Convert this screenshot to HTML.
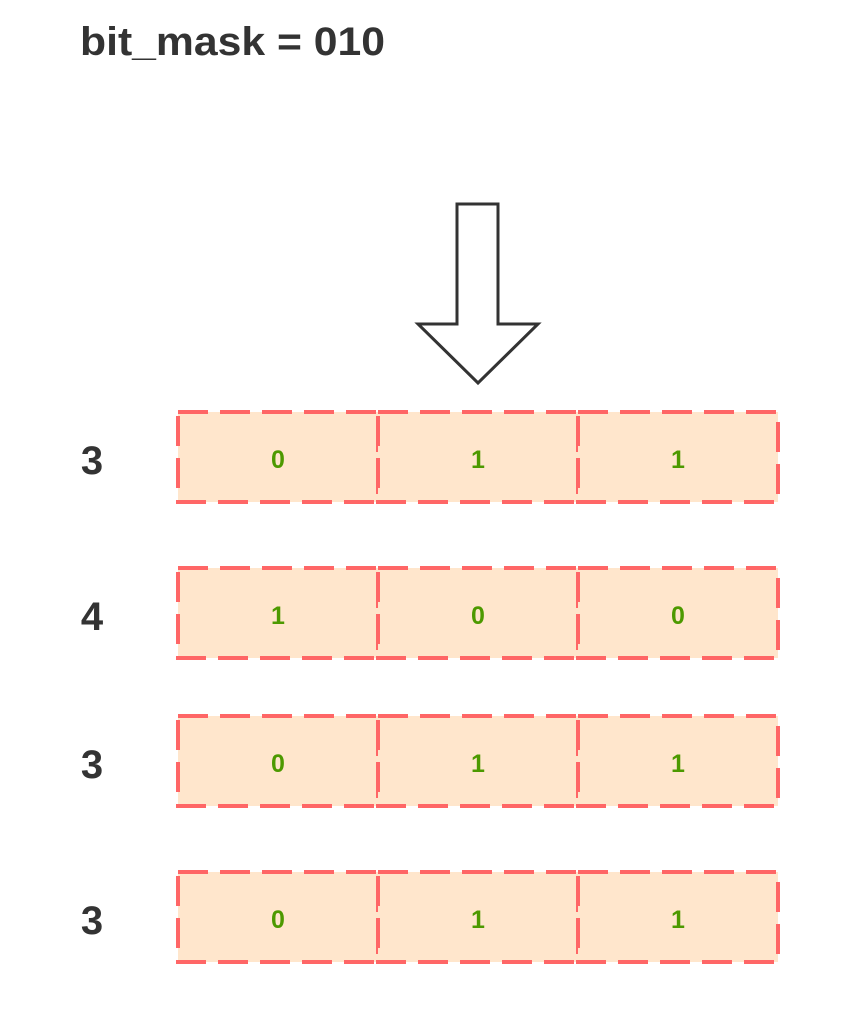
<!DOCTYPE html>
<html><head><style>body{margin:0;background:#fff}</style></head><body>
<svg width="847" height="1016" xmlns="http://www.w3.org/2000/svg" style="display:block">
<text x="80" y="55" font-family="Liberation Sans, sans-serif" font-weight="bold" font-size="40" fill="#333" textLength="305" lengthAdjust="spacingAndGlyphs">bit_mask = 010</text>
<polygon points="457,204 498,204 498,324 538,324 478,383 418,324 457,324" fill="#fff" stroke="#333" stroke-width="3" stroke-linejoin="miter"/>
<g font-family="Liberation Sans, sans-serif" font-weight="bold" text-anchor="middle">
<g transform="translate(0,412)">
<rect x="178" y="0" width="200" height="90" fill="#ffe6cc" stroke="#ff6666" stroke-width="4" stroke-dasharray="30,12"/>
<rect x="378" y="0" width="200" height="90" fill="#ffe6cc" stroke="#ff6666" stroke-width="4" stroke-dasharray="30,12"/>
<rect x="578" y="0" width="200" height="90" fill="#ffe6cc" stroke="#ff6666" stroke-width="4" stroke-dasharray="30,12"/>
<text x="278" y="56" font-size="25" fill="#4d9900">0</text><text x="478" y="56" font-size="25" fill="#4d9900">1</text><text x="678" y="56" font-size="25" fill="#4d9900">1</text>
<text x="92" y="62" font-size="40" fill="#333">3</text>
</g>
<g transform="translate(0,568)">
<rect x="178" y="0" width="200" height="90" fill="#ffe6cc" stroke="#ff6666" stroke-width="4" stroke-dasharray="30,12"/>
<rect x="378" y="0" width="200" height="90" fill="#ffe6cc" stroke="#ff6666" stroke-width="4" stroke-dasharray="30,12"/>
<rect x="578" y="0" width="200" height="90" fill="#ffe6cc" stroke="#ff6666" stroke-width="4" stroke-dasharray="30,12"/>
<text x="278" y="56" font-size="25" fill="#4d9900">1</text><text x="478" y="56" font-size="25" fill="#4d9900">0</text><text x="678" y="56" font-size="25" fill="#4d9900">0</text>
<text x="92" y="62" font-size="40" fill="#333">4</text>
</g>
<g transform="translate(0,716)">
<rect x="178" y="0" width="200" height="90" fill="#ffe6cc" stroke="#ff6666" stroke-width="4" stroke-dasharray="30,12"/>
<rect x="378" y="0" width="200" height="90" fill="#ffe6cc" stroke="#ff6666" stroke-width="4" stroke-dasharray="30,12"/>
<rect x="578" y="0" width="200" height="90" fill="#ffe6cc" stroke="#ff6666" stroke-width="4" stroke-dasharray="30,12"/>
<text x="278" y="56" font-size="25" fill="#4d9900">0</text><text x="478" y="56" font-size="25" fill="#4d9900">1</text><text x="678" y="56" font-size="25" fill="#4d9900">1</text>
<text x="92" y="62" font-size="40" fill="#333">3</text>
</g>
<g transform="translate(0,872)">
<rect x="178" y="0" width="200" height="90" fill="#ffe6cc" stroke="#ff6666" stroke-width="4" stroke-dasharray="30,12"/>
<rect x="378" y="0" width="200" height="90" fill="#ffe6cc" stroke="#ff6666" stroke-width="4" stroke-dasharray="30,12"/>
<rect x="578" y="0" width="200" height="90" fill="#ffe6cc" stroke="#ff6666" stroke-width="4" stroke-dasharray="30,12"/>
<text x="278" y="56" font-size="25" fill="#4d9900">0</text><text x="478" y="56" font-size="25" fill="#4d9900">1</text><text x="678" y="56" font-size="25" fill="#4d9900">1</text>
<text x="92" y="62" font-size="40" fill="#333">3</text>
</g>
</g>
</svg>
</body></html>
